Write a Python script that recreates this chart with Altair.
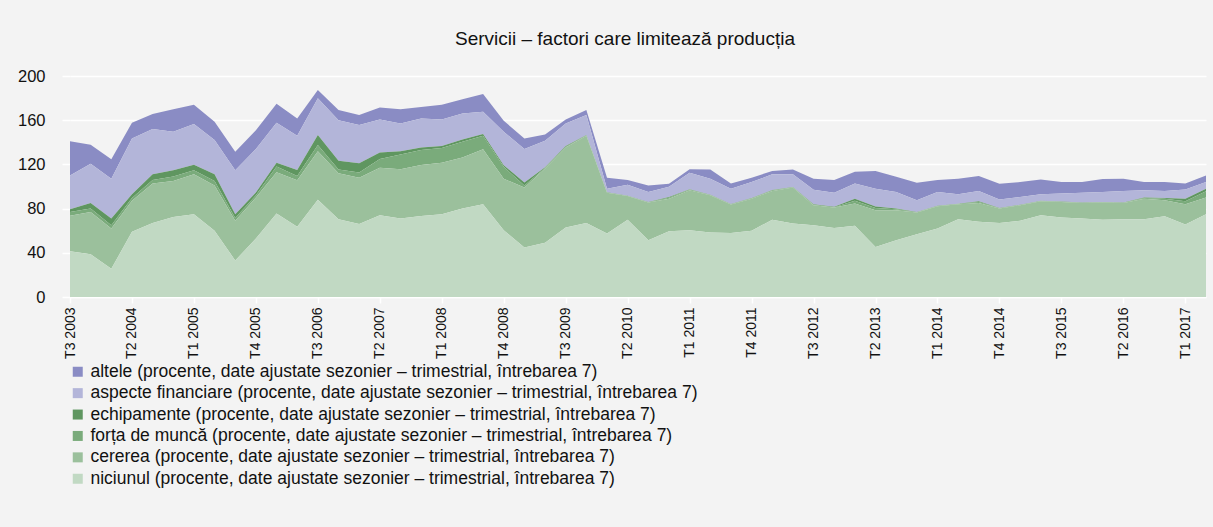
import altair as alt
import pandas as pd

# Quarter labels, T3 2003 ... T2 2017
quarters = (
    ["T3 2003", "T4 2003"]
    + [f"T{q} {y}" for y in range(2004, 2017) for q in (1, 2, 3, 4)]
    + ["T1 2017", "T2 2017"]
)

# Shares of respondents (percent, seasonally adjusted) per limiting factor
niciunul = [41.5, 38.7, 25.5, 59.0, 67.0, 72.5, 75.0, 60.0, 33.0, 53.0,
            75.5, 63.5, 88.0, 70.4, 66.0, 74.0, 71.0, 73.4, 75.0, 80.0,
            84.0, 60.4, 44.7, 49.0, 62.8, 67.0, 57.4, 70.0, 51.4, 59.5,
            60.4, 58.4, 58.0, 59.9, 70.0, 66.5, 65.0, 62.5, 64.4, 45.3,
            51.4, 56.9, 62.0, 70.4, 68.0, 67.0, 69.0, 74.0, 72.0, 71.0,
            70.0, 70.4, 70.4, 73.0, 65.5, 75.0]
cererea = [32.0, 38.3, 36.5, 28.0, 35.7, 32.5, 36.0, 41.0, 36.0, 37.0,
           37.5, 42.2, 44.0, 41.6, 42.0, 43.0, 44.7, 46.0, 46.5, 46.3,
           49.8, 46.6, 54.3, 67.3, 72.5, 79.0, 36.9, 21.3, 34.1, 29.5,
           36.3, 33.6, 25.7, 29.1, 26.0, 32.5, 18.0, 18.5, 20.2, 33.3,
           27.2, 19.6, 20.2, 13.6, 17.0, 13.0, 14.0, 12.7, 14.0, 14.0,
           15.5, 14.6, 18.6, 14.6, 18.5, 15.0]
forta_de_munca = [3.5, 3.0, 3.0, 2.5, 3.1, 4.0, 3.8, 4.0, 2.6, 2.0,
                  5.0, 3.7, 5.5, 3.4, 4.7, 8.0, 13.3, 13.6, 13.3, 14.2,
                  12.2, 10.8, 2.0, 0.7, 0.7, 0.3, 0.2, 0.2, 0.2, 0.8,
                  0.6, 0.3, 0.3, 0.3, 0.5, 0.3, 0.5, 0.3, 2.4, 2.0,
                  0.9, 0.3, 0.2, 0.3, 1.0, 0.3, 0.3, 0.3, 0.3, 0.3,
                  0.3, 0.3, 0.7, 1.4, 2.7, 5.8]
echipamente = [2.5, 5.0, 6.0, 3.5, 5.2, 5.8, 4.9, 6.0, 3.4, 2.5,
               3.5, 5.6, 9.1, 7.9, 8.3, 5.8, 3.0, 2.4, 1.8, 2.1,
               1.5, 1.5, 2.6, 0.5, 0.6, 0.2, 0.2, 0.2, 0.2, 0.8,
               0.2, 0.2, 0.2, 0.2, 0.3, 0.3, 0.5, 0.3, 2.0, 1.4,
               0.5, 0.2, 0.2, 0.2, 0.7, 0.2, 0.2, 0.2, 0.2, 0.2,
               0.2, 0.2, 0.3, 0.7, 2.3, 2.2]
aspecte_financiare = [30.5, 35.5, 36.0, 50.5, 41.0, 34.8, 36.8, 31.0, 39.8, 39.5,
                      36.2, 31.0, 33.2, 36.7, 34.6, 29.9, 25.0, 26.2, 24.1, 23.4,
                      20.2, 30.2, 30.4, 23.9, 20.4, 18.2, 3.3, 9.8, 9.1, 9.1,
                      14.9, 14.5, 13.8, 14.5, 14.2, 11.4, 13.0, 12.7, 13.7, 16.0,
                      15.0, 10.6, 12.4, 8.5, 9.3, 7.7, 7.1, 5.8, 7.2, 8.8,
                      9.0, 10.5, 6.7, 6.3, 8.3, 6.0]
altele = [31.0, 17.3, 17.7, 14.2, 13.6, 20.2, 17.5, 16.6, 16.6, 17.0,
          17.3, 15.6, 7.5, 9.2, 9.1, 10.9, 13.0, 10.4, 13.3, 13.0,
          16.1, 10.0, 9.5, 5.6, 3.7, 4.5, 10.0, 4.3, 6.0, 2.8,
          3.3, 8.4, 4.7, 4.0, 3.0, 4.4, 10.0, 11.5, 10.6, 16.0,
          13.8, 15.7, 10.8, 14.0, 13.4, 14.2, 13.4, 13.4, 10.3, 9.7,
          11.7, 11.0, 7.3, 8.0, 5.4, 6.0]

suffix = " (procente, date ajustate sezonier – trimestrial, întrebarea 7)"
series_names = ["altele", "aspecte financiare", "echipamente",
                "forța de muncă", "cererea", "niciunul"]
series_values = [altele, aspecte_financiare, echipamente,
                 forta_de_munca, cererea, niciunul]
series_colors = ["#8a8cc4", "#b3b5d9", "#5f9660", "#7aab7b", "#9bc09c", "#c1d9c3"]

rows = []
for k, (name, vals) in enumerate(zip(series_names, series_values)):
    for q, v in zip(quarters, vals):
        # stack position: niciunul at the bottom, altele on top
        rows.append({"trimestru": q, "serie": name + suffix,
                     "valoare": v, "ordine": len(series_names) - k})
df = pd.DataFrame(rows)

FONT = "Liberation Sans"

chart = (
    alt.Chart(df)
    .mark_area(interpolate="linear", opacity=1)
    .encode(
        x=alt.X(
            "trimestru:O",
            sort=quarters,
            scale=alt.Scale(type="point", padding=0),
            axis=alt.Axis(
                values=quarters[::3],
                title=None,
                labelAngle=-90,
                labelFontSize=14,
                labelFont=FONT,
                labelColor="#111111",
                labelPadding=4,
                tickColor="white",
                tickSize=6,
                tickWidth=1.5,
                domainColor="white",
                domainWidth=1.5,
                grid=False,
            ),
        ),
        y=alt.Y(
            "valoare:Q",
            stack="zero",
            scale=alt.Scale(domain=[0, 200], nice=False),
            axis=alt.Axis(
                values=[0, 40, 80, 120, 160, 200],
                title=None,
                grid=True,
                gridColor="white",
                gridWidth=1.5,
                domain=False,
                tickColor="white",
                tickSize=8,
                tickWidth=1.5,
                labelFontSize=16.5,
                labelFont=FONT,
                labelColor="#111111",
                labelPadding=17,
            ),
        ),
        color=alt.Color(
            "serie:N",
            scale=alt.Scale(domain=[n + suffix for n in series_names],
                            range=series_colors),
            legend=alt.Legend(
                title=None,
                orient="none",
                legendX=-1,
                legendY=287,
                direction="vertical",
                symbolType="square",
                symbolSize=100,
                symbolStrokeWidth=0,
                symbolOpacity=1,
                labelFontSize=17.5,
                labelFont=FONT,
                labelColor="#111111",
                labelOffset=4,
                rowPadding=2.4,
                labelLimit=900,
            ),
        ),
        order=alt.Order("ordine:Q", sort="ascending"),
    )
    .properties(
        width=1136,
        height=221,
        title=alt.TitleParams(
            "Servicii – factori care limitează producția",
            font=FONT,
            fontSize=19,
            fontWeight="normal",
            color="#111111",
            anchor="middle",
            dx=-13,
            offset=19,
        ),
        autosize=alt.AutoSizeParams(type="none"),
        padding={"left": 70, "top": 76, "right": 7, "bottom": 230},
        background="#f3f3f3",
    )
    .configure_view(stroke=None)
)

chart.save("out.html", embed_options={"renderer": "svg", "actions": False})
